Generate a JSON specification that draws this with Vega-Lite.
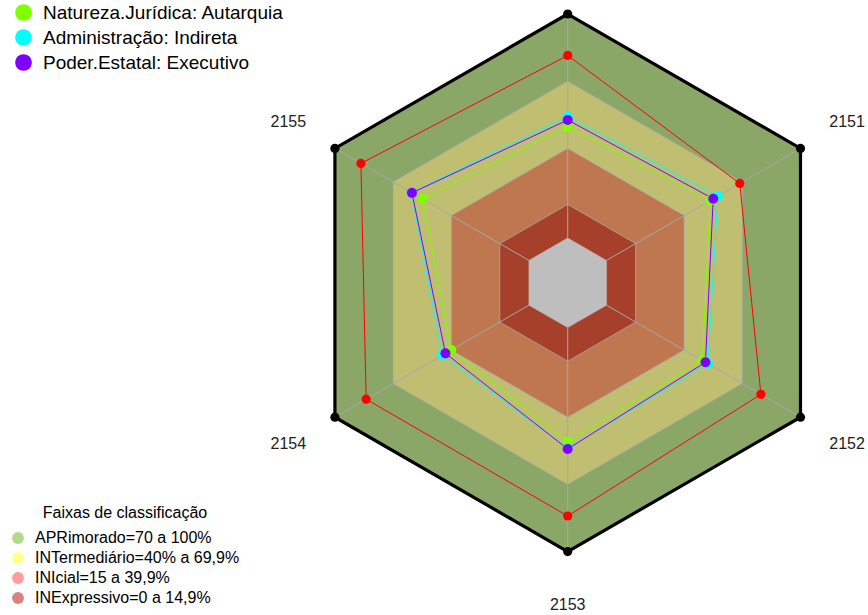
{
  "$schema": "https://vega.github.io/schema/vega-lite/v6.json",
  "width": 868,
  "height": 615,
  "autosize": "none",
  "padding": 0,
  "background": "white",
  "config": {"view": {"stroke": null}, "font": "Liberation Sans"},
  "datasets": {
    "eixos": [{"eixo": "2156"}, {"eixo": "2155"}, {"eixo": "2154"}, {"eixo": "2153"}, {"eixo": "2152"}, {"eixo": "2151"}],
    "faixas": [
      {"faixa": "100", "2156": 100, "2155": 100, "2154": 100, "2153": 100, "2152": 100, "2151": 100},
      {"faixa": "70", "2156": 70, "2155": 70, "2154": 70, "2153": 70, "2152": 70, "2151": 70},
      {"faixa": "40", "2156": 40, "2155": 40, "2154": 40, "2153": 40, "2152": 40, "2151": 40},
      {"faixa": "15", "2156": 15, "2155": 15, "2154": 15, "2153": 15, "2152": 15, "2151": 15},
      {"faixa": "0", "2156": 0, "2155": 0, "2154": 0, "2153": 0, "2152": 0, "2151": 0}
    ],
    "series": [
      {"serie": "Referência", "2156": 81.5, "2155": 86.6, "2154": 83.9, "2153": 84.1, "2152": 79.6, "2151": 68.7},
      {"serie": "Natureza.Jurídica: Autarquia", "2156": 49.6, "2155": 54.8, "2154": 40.0, "2153": 50.9, "2152": 49.4, "2151": 53.5},
      {"serie": "Administração: Indireta", "2156": 54.2, "2155": 60.5, "2154": 44.7, "2153": 53.9, "2152": 52.3, "2151": 57.4},
      {"serie": "Poder.Estatal: Executivo", "2156": 52.7, "2155": 60.3, "2154": 43.0, "2153": 54.2, "2152": 51.0, "2151": 55.0}
    ],
    "classes": [
      {"classe": "APRimorado=70 a 100%"},
      {"classe": "INTermediário=40% a 69,9%"},
      {"classe": "INIcial=15 a 39,9%"},
      {"classe": "INExpressivo=0 a 14,9%"}
    ]
  },
  "encoding": {
    "x": {"field": "x", "type": "quantitative", "scale": {"domain": [-253.44, 134.06], "nice": false, "zero": false}, "axis": null},
    "y": {"field": "y", "type": "quantitative", "scale": {"domain": [-148.3, 126.25], "nice": false, "zero": false}, "axis": null}
  },
  "layer": [
    {
      "data": {"name": "classes"},
      "mark": {"type": "point", "filled": true, "opacity": 0, "size": 1},
      "encoding": {
        "x": {"datum": 0, "type": "quantitative"},
        "y": {"datum": 0, "type": "quantitative"},
        "fill": {
          "field": "classe", "type": "nominal",
          "scale": {"domain": ["APRimorado=70 a 100%", "INTermediário=40% a 69,9%", "INIcial=15 a 39,9%", "INExpressivo=0 a 14,9%"], "range": ["#B2D98A", "#FFFF8C", "#FF9C9C", "#D98282"]},
          "legend": {"orient": "none", "legendX": 10, "legendY": 505, "title": "Faixas de classificação", "titleFontSize": 16, "titleFontWeight": "normal", "titleFont": "Liberation Sans", "titleColor": "#000000", "titleAnchor": "middle", "titlePadding": 9, "symbolType": "circle", "symbolSize": 140, "symbolOpacity": 1, "symbolStrokeWidth": 0, "labelFontSize": 16, "labelFont": "Liberation Sans", "labelColor": "#000000", "labelOffset": 9, "labelLimit": 0, "rowPadding": 4, "padding": 0}
        }
      }
    },
    {
      "data": {"name": "faixas"},
      "transform": [
        {"filter": "datum.faixa == '100'"},
        {"fold": ["2156", "2155", "2154", "2153", "2152", "2151"], "as": ["eixo", "valor"]},
        {"calculate": "indexof(['2156','2155','2154','2153','2152','2151'], datum.eixo)", "as": "idx"},
        {"calculate": "PI/2 + datum.idx*PI/3", "as": "ang"},
        {"calculate": "(datum.valor+20)*cos(datum.ang)", "as": "x"},
        {"calculate": "(datum.valor+20)*sin(datum.ang)", "as": "y"}
      ],
      "mark": {"type": "line", "interpolate": "linear-closed", "fill": "#8AA767", "stroke": "#000000", "strokeWidth": 3.2, "strokeJoin": "miter"},
      "encoding": {"order": {"field": "idx", "type": "quantitative"}}
    },
    {
      "data": {"name": "faixas"},
      "transform": [
        {"filter": "datum.faixa == '70'"},
        {"fold": ["2156", "2155", "2154", "2153", "2152", "2151"], "as": ["eixo", "valor"]},
        {"calculate": "indexof(['2156','2155','2154','2153','2152','2151'], datum.eixo)", "as": "idx"},
        {"calculate": "PI/2 + datum.idx*PI/3", "as": "ang"},
        {"calculate": "(datum.valor+20)*cos(datum.ang)", "as": "x"},
        {"calculate": "(datum.valor+20)*sin(datum.ang)", "as": "y"}
      ],
      "mark": {"type": "line", "interpolate": "linear-closed", "fill": "#BFBE71", "stroke": "#A8A8A8", "strokeWidth": 0.8},
      "encoding": {"order": {"field": "idx", "type": "quantitative"}}
    },
    {
      "data": {"name": "faixas"},
      "transform": [
        {"filter": "datum.faixa == '40'"},
        {"fold": ["2156", "2155", "2154", "2153", "2152", "2151"], "as": ["eixo", "valor"]},
        {"calculate": "indexof(['2156','2155','2154','2153','2152','2151'], datum.eixo)", "as": "idx"},
        {"calculate": "PI/2 + datum.idx*PI/3", "as": "ang"},
        {"calculate": "(datum.valor+20)*cos(datum.ang)", "as": "x"},
        {"calculate": "(datum.valor+20)*sin(datum.ang)", "as": "y"}
      ],
      "mark": {"type": "line", "interpolate": "linear-closed", "fill": "#BF774F", "stroke": "#A8A8A8", "strokeWidth": 0.8},
      "encoding": {"order": {"field": "idx", "type": "quantitative"}}
    },
    {
      "data": {"name": "faixas"},
      "transform": [
        {"filter": "datum.faixa == '15'"},
        {"fold": ["2156", "2155", "2154", "2153", "2152", "2151"], "as": ["eixo", "valor"]},
        {"calculate": "indexof(['2156','2155','2154','2153','2152','2151'], datum.eixo)", "as": "idx"},
        {"calculate": "PI/2 + datum.idx*PI/3", "as": "ang"},
        {"calculate": "(datum.valor+20)*cos(datum.ang)", "as": "x"},
        {"calculate": "(datum.valor+20)*sin(datum.ang)", "as": "y"}
      ],
      "mark": {"type": "line", "interpolate": "linear-closed", "fill": "#A7402A", "stroke": "#A8A8A8", "strokeWidth": 0.8},
      "encoding": {"order": {"field": "idx", "type": "quantitative"}}
    },
    {
      "data": {"name": "faixas"},
      "transform": [
        {"filter": "datum.faixa == '0'"},
        {"fold": ["2156", "2155", "2154", "2153", "2152", "2151"], "as": ["eixo", "valor"]},
        {"calculate": "indexof(['2156','2155','2154','2153','2152','2151'], datum.eixo)", "as": "idx"},
        {"calculate": "PI/2 + datum.idx*PI/3", "as": "ang"},
        {"calculate": "(datum.valor+20)*cos(datum.ang)", "as": "x"},
        {"calculate": "(datum.valor+20)*sin(datum.ang)", "as": "y"}
      ],
      "mark": {"type": "line", "interpolate": "linear-closed", "fill": "#BEBEBE", "stroke": "#BEBEBE", "strokeWidth": 0.5},
      "encoding": {"order": {"field": "idx", "type": "quantitative"}}
    },
    {
      "data": {"name": "eixos"},
      "transform": [
        {"calculate": "indexof(['2156','2155','2154','2153','2152','2151'], datum.eixo)", "as": "idx"},
        {"calculate": "PI/2 + datum.idx*PI/3", "as": "ang"},
        {"calculate": "20*cos(datum.ang)", "as": "x"},
        {"calculate": "20*sin(datum.ang)", "as": "y"},
        {"calculate": "120*cos(datum.ang)", "as": "x2"},
        {"calculate": "120*sin(datum.ang)", "as": "y2"}
      ],
      "mark": {"type": "rule", "color": "#A8A8A8", "strokeWidth": 1},
      "encoding": {"x2": {"field": "x2"}, "y2": {"field": "y2"}}
    },
    {
      "data": {"name": "series"},
      "transform": [
        {"filter": "datum.serie == 'Natureza.Jurídica: Autarquia'"},
        {"fold": ["2156", "2155", "2154", "2153", "2152", "2151"], "as": ["eixo", "valor"]},
        {"calculate": "indexof(['2156','2155','2154','2153','2152','2151'], datum.eixo)", "as": "idx"},
        {"calculate": "PI/2 + datum.idx*PI/3", "as": "ang"},
        {"calculate": "(datum.valor+20)*cos(datum.ang)", "as": "x"},
        {"calculate": "(datum.valor+20)*sin(datum.ang)", "as": "y"}
      ],
      "mark": {"type": "line", "interpolate": "linear-closed", "strokeWidth": 1, "color": "#80FF00"},
      "encoding": {"order": {"field": "idx", "type": "quantitative"}}
    },
    {
      "data": {"name": "series"},
      "transform": [
        {"filter": "datum.serie == 'Administração: Indireta'"},
        {"fold": ["2156", "2155", "2154", "2153", "2152", "2151"], "as": ["eixo", "valor"]},
        {"calculate": "indexof(['2156','2155','2154','2153','2152','2151'], datum.eixo)", "as": "idx"},
        {"calculate": "PI/2 + datum.idx*PI/3", "as": "ang"},
        {"calculate": "(datum.valor+20)*cos(datum.ang)", "as": "x"},
        {"calculate": "(datum.valor+20)*sin(datum.ang)", "as": "y"}
      ],
      "mark": {"type": "line", "interpolate": "linear-closed", "strokeWidth": 1, "color": "#00FFFF"},
      "encoding": {"order": {"field": "idx", "type": "quantitative"}}
    },
    {
      "data": {"name": "series"},
      "transform": [
        {"filter": "datum.serie == 'Poder.Estatal: Executivo'"},
        {"fold": ["2156", "2155", "2154", "2153", "2152", "2151"], "as": ["eixo", "valor"]},
        {"calculate": "indexof(['2156','2155','2154','2153','2152','2151'], datum.eixo)", "as": "idx"},
        {"calculate": "PI/2 + datum.idx*PI/3", "as": "ang"},
        {"calculate": "(datum.valor+20)*cos(datum.ang)", "as": "x"},
        {"calculate": "(datum.valor+20)*sin(datum.ang)", "as": "y"}
      ],
      "mark": {"type": "line", "interpolate": "linear-closed", "strokeWidth": 1, "color": "#8000FF"},
      "encoding": {"order": {"field": "idx", "type": "quantitative"}}
    },
    {
      "data": {"name": "series"},
      "transform": [
        {"filter": "datum.serie == 'Referência'"},
        {"fold": ["2156", "2155", "2154", "2153", "2152", "2151"], "as": ["eixo", "valor"]},
        {"calculate": "indexof(['2156','2155','2154','2153','2152','2151'], datum.eixo)", "as": "idx"},
        {"calculate": "PI/2 + datum.idx*PI/3", "as": "ang"},
        {"calculate": "(datum.valor+20)*cos(datum.ang)", "as": "x"},
        {"calculate": "(datum.valor+20)*sin(datum.ang)", "as": "y"}
      ],
      "mark": {"type": "line", "interpolate": "linear-closed", "strokeWidth": 1, "color": "#FF0000"},
      "encoding": {"order": {"field": "idx", "type": "quantitative"}}
    },
    {
      "data": {"name": "series"},
      "transform": [
        {"filter": "datum.serie == 'Referência'"},
        {"fold": ["2156", "2155", "2154", "2153", "2152", "2151"], "as": ["eixo", "valor"]},
        {"calculate": "indexof(['2156','2155','2154','2153','2152','2151'], datum.eixo)", "as": "idx"},
        {"calculate": "PI/2 + datum.idx*PI/3", "as": "ang"},
        {"calculate": "(datum.valor+20)*cos(datum.ang)", "as": "x"},
        {"calculate": "(datum.valor+20)*sin(datum.ang)", "as": "y"}
      ],
      "mark": {"type": "point", "filled": true, "opacity": 1, "size": 85, "color": "#FF0000"}
    },
    {
      "data": {"name": "series"},
      "transform": [
        {"filter": "datum.serie != 'Referência'"},
        {"fold": ["2156", "2155", "2154", "2153", "2152", "2151"], "as": ["eixo", "valor"]},
        {"calculate": "indexof(['2156','2155','2154','2153','2152','2151'], datum.eixo)", "as": "idx"},
        {"calculate": "PI/2 + datum.idx*PI/3", "as": "ang"},
        {"calculate": "(datum.valor+20)*cos(datum.ang)", "as": "x"},
        {"calculate": "(datum.valor+20)*sin(datum.ang)", "as": "y"}
      ],
      "mark": {"type": "point", "filled": true, "opacity": 1, "size": 100},
      "encoding": {
        "color": {
          "field": "serie", "type": "nominal",
          "scale": {"domain": ["Natureza.Jurídica: Autarquia", "Administração: Indireta", "Poder.Estatal: Executivo"], "range": ["#80FF00", "#00FFFF", "#8000FF"]},
          "legend": {"orient": "none", "legendX": 14, "legendY": 3, "title": null, "symbolType": "circle", "symbolSize": 280, "symbolOpacity": 1, "symbolStrokeWidth": 0, "labelFontSize": 19, "labelFont": "Liberation Sans", "labelColor": "#000000", "labelOffset": 10, "labelLimit": 0, "rowPadding": 5, "padding": 0}
        }
      }
    },
    {
      "data": {"name": "faixas"},
      "transform": [
        {"filter": "datum.faixa == '100'"},
        {"fold": ["2156", "2155", "2154", "2153", "2152", "2151"], "as": ["eixo", "valor"]},
        {"calculate": "indexof(['2156','2155','2154','2153','2152','2151'], datum.eixo)", "as": "idx"},
        {"calculate": "PI/2 + datum.idx*PI/3", "as": "ang"},
        {"calculate": "(datum.valor+20)*cos(datum.ang)", "as": "x"},
        {"calculate": "(datum.valor+20)*sin(datum.ang)", "as": "y"}
      ],
      "mark": {"type": "point", "filled": true, "opacity": 1, "size": 85, "color": "#000000"}
    },
    {
      "data": {"name": "eixos"},
      "transform": [
        {"calculate": "indexof(['2156','2155','2154','2153','2152','2151'], datum.eixo)", "as": "idx"},
        {"filter": "datum.idx > 0"},
        {"calculate": "PI/2 + datum.idx*PI/3", "as": "ang"},
        {"calculate": "144*cos(datum.ang)", "as": "x"},
        {"calculate": "144*sin(datum.ang)", "as": "y"}
      ],
      "mark": {"type": "text", "fontSize": 16, "font": "Liberation Sans", "color": "#222222", "align": "center", "baseline": "middle"},
      "encoding": {"text": {"field": "eixo"}}
    }
  ]
}
